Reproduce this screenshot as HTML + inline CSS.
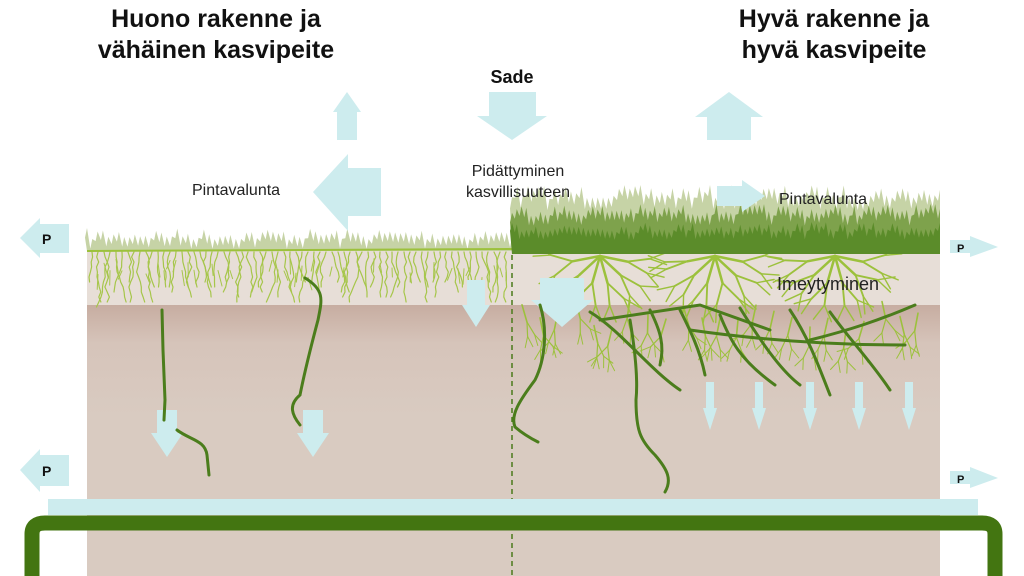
<!DOCTYPE html>
<html><head><meta charset="utf-8"><style>
html,body{margin:0;padding:0;background:#fff;width:1024px;height:576px;overflow:hidden}
svg{display:block}
text{font-family:"Liberation Sans",sans-serif}
</style></head><body>
<svg id="s" width="1024" height="576" viewBox="0 0 1024 576" xmlns="http://www.w3.org/2000/svg">
<defs>
<linearGradient id="sub" x1="0" y1="0" x2="0" y2="1">
<stop offset="0" stop-color="#c7ada1"/><stop offset="0.35" stop-color="#d6c4ba"/><stop offset="1" stop-color="#d9cbc1"/>
</linearGradient>
</defs>
<rect x="87" y="250" width="853" height="326" fill="#d9cbc1"/>
<rect x="87" y="250" width="853" height="55" fill="#e7ded7"/>
<rect x="87" y="305" width="853" height="110" fill="url(#sub)"/>
<g id="roots"></g>
<path id="lg" fill="#c6d3a6"/>
<line x1="87" y1="251" x2="512" y2="249" stroke="#9cc13c" stroke-width="2"/>
<path id="rg1" fill="#c6d3a6"/>
<path id="rg2" fill="#7ea24c"/>
<path id="rg3" fill="#5b8c2a"/>
<line x1="512" y1="255" x2="512" y2="576" stroke="#4a7a1a" stroke-width="1.5" stroke-dasharray="5,4"/>
<g fill="#cdecee">
<polygon points="337,140 337,112 333,112 347,92 361,112 357,112 357,140"/>
<polygon points="489,92 536,92 536,116 547,116 512,140 477,116 489,116"/>
<polygon points="707,140 707,117 695,117 729,92 763,117 751,117 751,140"/>
<polygon points="381,168 381,216 348,216 348,231 313,192 348,154 348,168"/>
<polygon points="717,186 742,186 742,180 765,196 742,212 742,206 717,206"/>
<polygon points="69,224 69,253 40,253 40,258 20,238 40,218 40,224"/>
<polygon points="69,455 69,486 40,486 40,492 20,470 40,449 40,455"/>
<polygon points="950,240 970,240 970,236 998,247 970,257 970,253 950,253"/>
<polygon points="950,471 970,471 970,467 998,478 970,488 970,484 950,484"/>
<polygon points="467,280 485,280 485,305 490,305 476,327 462,305 467,305"/>
<polygon points="540,278 584,278 584,300 593,300 562,327 531,300 540,300"/>
<polygon points="157,410 177,410 177,433 183,433 167,457 151,433 157,433"/>
<polygon points="303,410 323,410 323,433 329,433 313,457 297,433 303,433"/>
<g id="small"></g>
<rect x="48" y="499" width="930" height="16"/>
</g>
<path d="M32,576 L32,534 Q32,523 45,523 L982,523 Q995,523 995,534 L995,576" fill="none" stroke="#437511" stroke-width="15"/>
<g fill="none" stroke="#4b7d1c" stroke-width="3" stroke-linecap="round">
<path d="M162,310 L163,350 L165,400 L164,420"/>
<path d="M177,430 C190,440 205,440 207,455 L209,475"/>
<path d="M305,278 C325,290 322,300 318,320 C310,350 305,370 300,395 C288,405 292,415 300,425"/>
<path d="M540,305 C548,330 545,360 535,380 C520,400 510,415 515,427 C522,433 528,437 538,442"/>
<path d="M630,320 C635,350 638,380 636,400 C636,430 640,440 655,455 C668,470 672,480 665,492"/>
<path d="M590,312 C620,330 650,370 680,390"/>
<path d="M600,320 L700,305 L770,330"/>
<path d="M680,310 C690,330 700,350 705,375"/>
<path d="M740,308 C760,340 780,370 800,385"/>
<path d="M790,310 C810,340 820,370 830,395"/>
<path d="M830,312 C850,340 870,360 890,390"/>
<path d="M690,330 C760,340 830,345 905,345"/>
<path d="M810,340 C850,330 880,320 915,305"/>
<path d="M650,310 C660,330 665,345 660,365"/>
<path d="M720,315 C730,340 740,360 775,385"/>
</g>
<g font-weight="bold" font-size="25" fill="#111" text-anchor="middle">
<text x="216" y="27">Huono rakenne ja</text>
<text x="216" y="58">vähäinen kasvipeite</text>
<text x="834" y="27">Hyvä rakenne ja</text>
<text x="834" y="58">hyvä kasvipeite</text>
<text x="512" y="83" font-size="18">Sade</text>
</g>
<g font-size="16" fill="#222">
<text x="192" y="195">Pintavalunta</text>
<text x="518" y="176" text-anchor="middle">Pidättyminen</text>
<text x="518" y="197" text-anchor="middle">kasvillisuuteen</text>
<text x="779" y="204">Pintavalunta</text>
<text x="777" y="290" font-size="18">Imeytyminen</text>
</g>
<g font-size="14" font-weight="bold" fill="#111">
<text x="42" y="244">P</text><text x="42" y="476">P</text>
<text x="957" y="252" font-size="11">P</text><text x="957" y="483" font-size="11">P</text>
</g>
</svg>
<script>
var NS="http://www.w3.org/2000/svg";
var seed=7;function r(){seed=(seed*16807)%2147483647;return seed/2147483647;}
function grass(x0,x1,base,top,amp,n){var d="M"+x0+","+base;for(var i=0;i<=n;i++){var x=x0+(x1-x0)*i/n;var h=top+r()*amp;d+=" L"+(x-2).toFixed(1)+","+(h+amp*0.8).toFixed(1)+" L"+x.toFixed(1)+","+h.toFixed(1);}d+=" L"+x1+","+base+" Z";return d;}
document.getElementById("lg").setAttribute("d",grass(87,512,251,228,12,80));
document.getElementById("rg1").setAttribute("d",grass(512,940,240,185,14,80));
document.getElementById("rg2").setAttribute("d",grass(512,940,250,204,12,90));
document.getElementById("rg3").setAttribute("d",grass(512,940,254,222,10,90));
var g=document.getElementById("roots");
function line(d,c,w){var p=document.createElementNS(NS,"path");p.setAttribute("d",d);p.setAttribute("stroke",c);p.setAttribute("stroke-width",w);p.setAttribute("fill","none");p.setAttribute("stroke-linecap","round");g.appendChild(p);}
for(var x=92;x<508;x+=6){var y=252,cx=x,d="M"+cx+","+y;var L=25+r()*28;while(y<252+L){y+=5;cx+=(r()-0.5)*5;d+=" L"+cx.toFixed(1)+","+y;}line(d,"#a6c64a",1.2);
 if(r()<0.6){var by=258+r()*20;line("M"+x+","+by+" l"+((r()-0.5)*10).toFixed(1)+","+(8+r()*8).toFixed(1),"#a6c64a",1);}}
function branch(x,y,ang,len,w,depth){if(depth==0||len<4)return;var x2=x+Math.cos(ang)*len,y2=y+Math.sin(ang)*len;if(y2>400)y2=400;line("M"+x.toFixed(1)+","+y.toFixed(1)+" L"+x2.toFixed(1)+","+y2.toFixed(1),"#9cc13c",w);
 branch(x2,y2,ang+(r()*0.4+0.15),len*0.8,Math.max(1,w*0.75),depth-1);branch(x2,y2,ang-(r()*0.4+0.15),len*0.8,Math.max(1,w*0.75),depth-1);}
[[600,256],[715,256],[835,256]].forEach(function(c){for(var a=0.2;a<3.0;a+=0.55){branch(c[0],c[1],a,28,2.5,3);}});
for(var x=522;x<935;x+=18){branch(x,300+r()*30,Math.PI/2+(r()-0.5)*0.6,18,1.6,3);}
var s=document.getElementById("small");
[710,759,810,859,909].forEach(function(x){var p=document.createElementNS(NS,"polygon");p.setAttribute("points",(x-4)+",382 "+(x+4)+",382 "+(x+4)+",408 "+(x+7)+",408 "+x+",430 "+(x-7)+",408 "+(x-4)+",408");s.appendChild(p);});
</script>
</body></html>
